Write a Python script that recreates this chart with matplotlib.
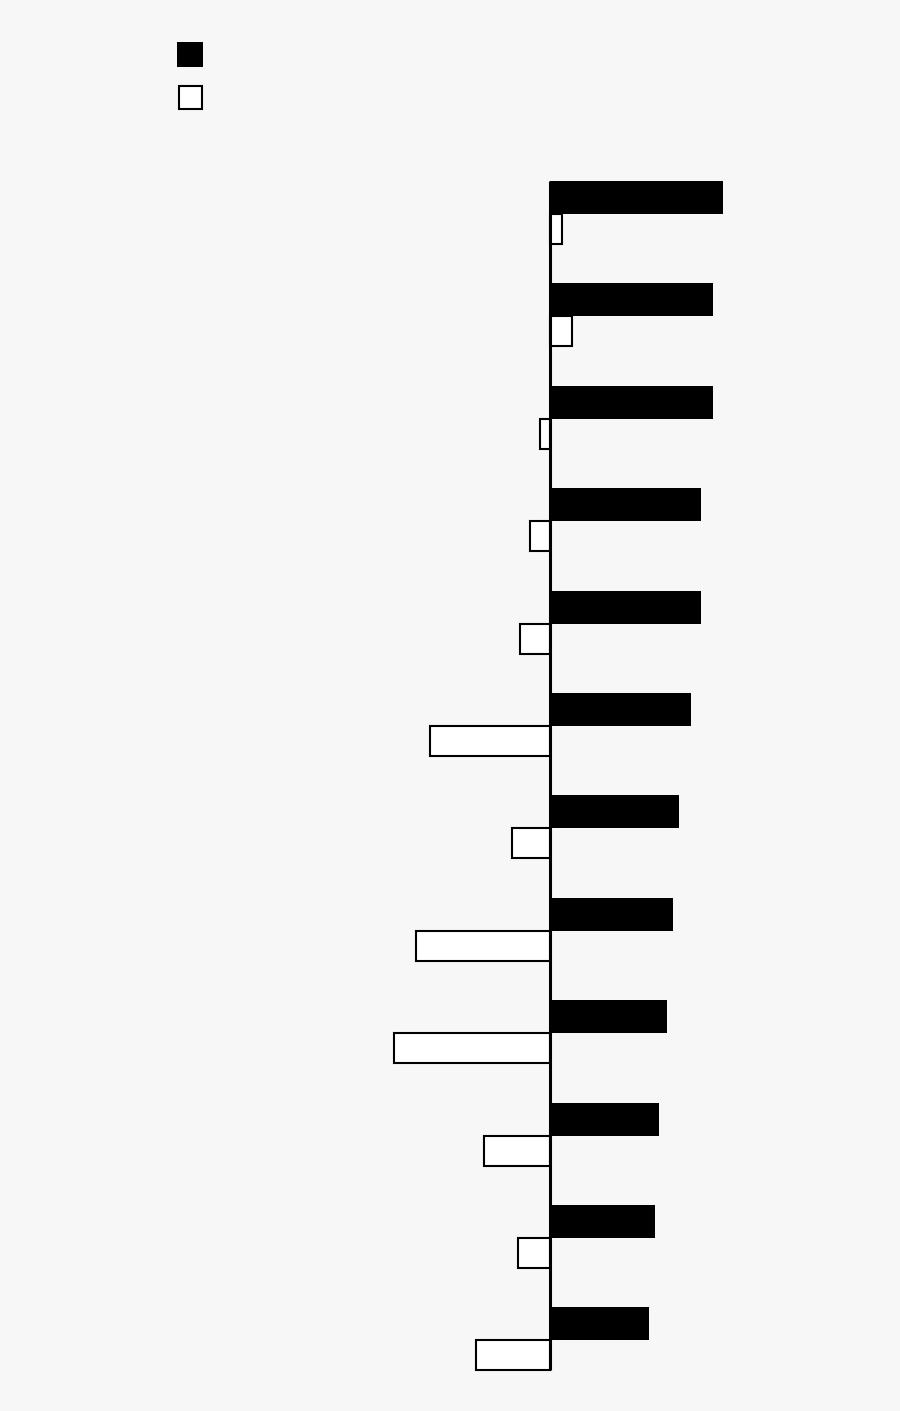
import matplotlib
matplotlib.use("Agg")
import matplotlib.pyplot as plt
from matplotlib.patches import Rectangle
import numpy as np

# ===[ Data ]==================================================================
# chart carries no text at all, categories are unnamed rows
categories = list(range(12))
series_a = [17.3, 16.3, 16.3, 15.1, 15.1, 14.1, 12.9, 12.3, 11.7, 10.9, 10.5, 9.9]
series_b = [1.2, 2.2, -1.0, -2.0, -3.0, -12.0, -3.8, -13.4, -15.6, -6.6, -3.2, -7.4]

BG = "#f7f7f7"

# ===[ Figure ]================================================================
fig = plt.figure(figsize=(9, 14.11), dpi=100, facecolor=BG)
ax = fig.add_axes([0, 0, 1, 1])
ax.set_facecolor(BG)

y = np.array(categories, dtype=float)
h_a = 0.322
h_b = 0.293
ax.barh(y - h_a / 2, series_a, height=h_a, color="black", linewidth=0)
ax.barh(y + h_b / 2, series_b, height=h_b, color="white",
        edgecolor="black", linewidth=1.5)

# zero line
ax.vlines(0, y[0] - h_a, y[-1] + h_b, color="black", linewidth=2.2, zorder=3)

# one x unit = 10 px, zero at 550 px
ax.set_xlim(-55, 35)
top = -h_a - 181 / 102.4
ax.set_ylim(top + 1411 / 102.4, top)
ax.axis("off")

# legend swatches, no labels in the original
fig.patches.append(Rectangle((177 / 900, 1 - 67 / 1411), 26 / 900, 25 / 1411,
                             transform=fig.transFigure, facecolor="black",
                             edgecolor="black", linewidth=0))
fig.patches.append(Rectangle((179 / 900, 1 - 109 / 1411), 23 / 900, 23 / 1411,
                             transform=fig.transFigure, facecolor="white",
                             edgecolor="black", linewidth=1.5))

fig.savefig("out.png", dpi=100, facecolor=BG)
